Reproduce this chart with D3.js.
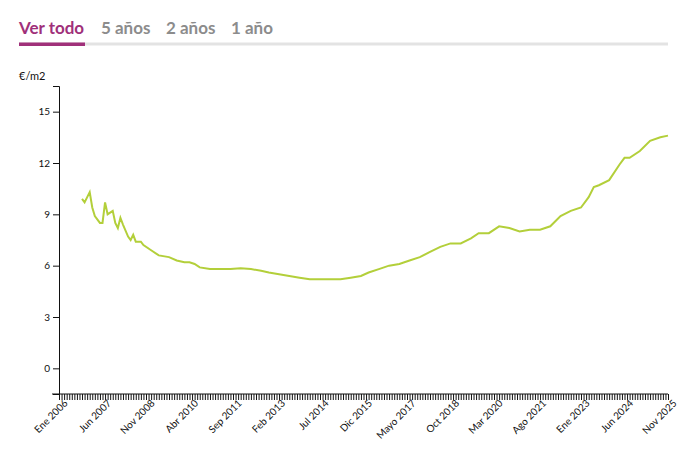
<!DOCTYPE html><html><head><meta charset="utf-8"><script src="https://cdn.jsdelivr.net/npm/d3@7"></script>
<style>body{margin:0;background:#fff;font-family:Lato,"Open Sans",sans-serif}</style></head><body><svg id="c" width="686" height="459"></svg>
<script>
const monthNames=["Ene","Feb","Mar","Abr","Mayo","Jun","Jul","Ago","Sep","Oct","Nov","Dic"];
const tabs=["Ver todo","5 años","2 años","1 año"];
const yTicks=[0,3,6,9,12,15];
const dates=["2006-10","2006-11","2007-01","2007-02","2007-03","2007-05","2007-06","2007-07","2007-08","2007-09","2007-10","2007-11","2007-12","2008-01","2008-02","2008-04","2008-05","2008-06","2008-07","2008-09","2008-10","2009-01","2009-04","2009-08","2009-11","2010-02","2010-04","2010-06","2010-08","2010-12","2011-04","2011-08","2011-12","2012-04","2012-08","2012-11","2013-03","2013-07","2013-11","2014-03","2015-03","2015-07","2015-11","2016-02","2016-06","2016-10","2017-02","2017-06","2017-10","2018-02","2018-06","2018-10","2019-02","2019-06","2019-09","2020-01","2020-05","2020-09","2021-01","2021-05","2021-09","2022-01","2022-05","2022-09","2023-01","2023-04","2023-06","2023-08","2023-12","2024-04","2024-06","2024-08","2024-12","2025-04","2025-08","2025-11"];
const values=[9.9,9.7,10.3,9.4,8.9,8.5,8.5,9.7,9.0,9.1,9.2,8.5,8.2,8.8,8.4,7.7,7.5,7.8,7.4,7.4,7.2,6.9,6.6,6.5,6.3,6.2,6.2,6.1,5.9,5.8,5.8,5.8,5.85,5.8,5.7,5.6,5.5,5.4,5.3,5.2,5.2,5.3,5.4,5.6,5.8,6.0,6.1,6.3,6.5,6.8,7.1,7.3,7.3,7.6,7.9,7.9,8.3,8.2,8.0,8.1,8.1,8.3,8.9,9.2,9.4,10.0,10.6,10.7,11.0,11.9,12.3,12.3,12.7,13.3,13.5,13.6];
const N=239;
const idx=s=>{const [y,m]=s.split("-").map(Number);return (y-2006)*12+m-1;};
const svg=d3.select("#c");
const tx=[19,101,166,231];
tabs.forEach((t,i)=>svg.append("text").attr("x",tx[i]).attr("y",34).attr("font-size",17).attr("font-weight",700).attr("fill",i==0?"#a0307a":"#8c8c8c").text(t));
svg.append("rect").attr("x",19).attr("y",42.5).attr("width",649).attr("height",3).attr("fill","#e3e3e3");
svg.append("rect").attr("x",19).attr("y",42.5).attr("width",66).attr("height",3.5).attr("fill","#a0307a");
const x=d3.scaleLinear().domain([0,N-1]).range([59,668]);
const y=d3.scaleLinear().domain([-1.5,16.5]).range([394,86]);
svg.append("text").attr("x",19).attr("y",80).attr("font-size",11).attr("fill","#111").text("€/m2");
const ya=svg.append("g").attr("transform","translate(59,0)").call(d3.axisLeft(y).tickValues(yTicks).tickSize(6).tickSizeOuter(6));
ya.selectAll("text").attr("font-size",10).attr("font-family","Lato,sans-serif").attr("fill","#111");
const xa=svg.append("g").attr("transform","translate(0,394)").call(d3.axisBottom(x).tickValues(d3.range(N)).tickSize(6).tickSizeOuter(0)
 .tickFormat(i=>i%17==0?monthNames[i%12]+" "+(2006+Math.floor(i/12)):""));
xa.select(".domain").attr("d","M52,0H668");
xa.selectAll("text").attr("font-size",10).attr("font-family","Lato,sans-serif").attr("fill","#111")
 .attr("text-anchor","end").attr("transform","translate(-1,0) rotate(-45)").attr("dx","0").attr("dy","0.5em");
svg.selectAll(".tick line").attr("stroke","#111");
svg.selectAll(".domain").attr("stroke","#111");
svg.append("path").datum(dates.map((d,i)=>[idx(d),values[i]])).attr("fill","none").attr("stroke","#b3cf3a").attr("stroke-width",2)
 .attr("d",d3.line().x(d=>x(d[0])).y(d=>y(d[1])));
</script></body></html>
